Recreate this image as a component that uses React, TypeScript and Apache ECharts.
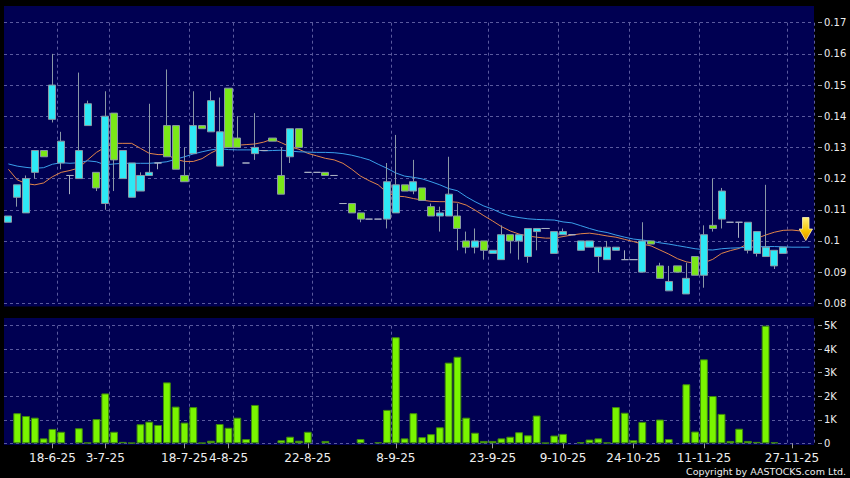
import React, { useEffect, useRef } from 'react';
import * as echarts from 'echarts';

// ---- data ----
const slotCount = 92;
const tickDates = ['18-6-25', '3-7-25', '18-7-25', '4-8-25', '22-8-25', '8-9-25', '23-9-25', '9-10-25', '24-10-25', '11-11-25', '27-11-25'];
const tickSlots = [5, 11, 20, 25, 34, 44, 55, 63, 71, 79, 89];
const gridSlots = [6, 12, 21, 26, 35, 44, 55, 63, 71, 79, 89];

// [open, close, low, high]
const candles: number[][] = [
  [0.106, 0.108, 0.106, 0.108], [0.114, 0.118, 0.111, 0.118], [0.109, 0.120, 0.109, 0.121], [0.122, 0.129, 0.120, 0.129],
  [0.129, 0.127, 0.127, 0.129], [0.139, 0.150, 0.138, 0.160], [0.125, 0.132, 0.123, 0.135], [0.121, 0.121, 0.115, 0.121],
  [0.120, 0.129, 0.120, 0.154], [0.137, 0.144, 0.137, 0.145], [0.122, 0.117, 0.116, 0.122], [0.112, 0.140, 0.110, 0.148],
  [0.141, 0.126, 0.116, 0.141], [0.120, 0.129, 0.120, 0.129], [0.114, 0.125, 0.114, 0.125], [0.116, 0.121, 0.116, 0.122],
  [0.121, 0.122, 0.121, 0.144], [0.125, 0.125, 0.123, 0.125], [0.137, 0.127, 0.127, 0.155], [0.137, 0.123, 0.123, 0.137],
  [0.121, 0.119, 0.119, 0.130], [0.128, 0.137, 0.128, 0.148], [0.137, 0.136, 0.136, 0.137], [0.135, 0.145, 0.135, 0.148],
  [0.124, 0.135, 0.124, 0.146], [0.149, 0.130, 0.130, 0.149], [0.133, 0.130, 0.130, 0.140], [0.125, 0.125, 0.125, 0.125],
  [0.128, 0.130, 0.126, 0.141], [0.129, 0.129, 0.129, 0.129], [0.133, 0.132, 0.132, 0.133], [0.121, 0.115, 0.115, 0.130],
  [0.127, 0.136, 0.125, 0.136], [0.136, 0.130, 0.130, 0.136], [0.122, 0.122, 0.122, 0.122], [0.122, 0.122, 0.122, 0.122],
  [0.122, 0.121, 0.121, 0.122], [0.121, 0.121, 0.121, 0.121], [0.112, 0.112, 0.112, 0.112], [0.112, 0.109, 0.109, 0.112],
  [0.109, 0.107, 0.106, 0.109], [0.107, 0.107, 0.107, 0.107], [0.107, 0.107, 0.107, 0.107], [0.107, 0.119, 0.104, 0.125],
  [0.109, 0.118, 0.109, 0.134], [0.118, 0.116, 0.116, 0.118], [0.116, 0.119, 0.115, 0.126], [0.117, 0.113, 0.113, 0.117],
  [0.111, 0.108, 0.108, 0.112], [0.108, 0.109, 0.103, 0.111], [0.108, 0.115, 0.108, 0.127], [0.108, 0.104, 0.097, 0.112],
  [0.100, 0.098, 0.096, 0.103], [0.098, 0.100, 0.096, 0.104], [0.100, 0.097, 0.094, 0.100], [0.096, 0.097, 0.096, 0.097],
  [0.094, 0.102, 0.094, 0.105], [0.102, 0.100, 0.096, 0.102], [0.100, 0.102, 0.094, 0.102], [0.095, 0.104, 0.093, 0.104],
  [0.103, 0.104, 0.097, 0.104], [0.104, 0.104, 0.104, 0.104], [0.096, 0.103, 0.096, 0.103], [0.102, 0.103, 0.102, 0.104],
  [0.102, 0.102, 0.102, 0.102], [0.097, 0.100, 0.097, 0.100], [0.098, 0.100, 0.098, 0.100], [0.095, 0.098, 0.090, 0.098],
  [0.094, 0.098, 0.094, 0.100], [0.097, 0.098, 0.097, 0.098], [0.094, 0.094, 0.094, 0.097], [0.094, 0.094, 0.094, 0.094],
  [0.090, 0.100, 0.090, 0.106], [0.100, 0.099, 0.099, 0.100], [0.092, 0.088, 0.088, 0.093], [0.084, 0.087, 0.084, 0.092],
  [0.092, 0.090, 0.090, 0.092], [0.083, 0.088, 0.083, 0.093], [0.095, 0.089, 0.089, 0.095], [0.089, 0.102, 0.085, 0.105],
  [0.105, 0.104, 0.103, 0.120], [0.107, 0.116, 0.104, 0.117], [0.106, 0.106, 0.106, 0.106], [0.106, 0.106, 0.101, 0.106],
  [0.097, 0.106, 0.096, 0.106], [0.096, 0.103, 0.095, 0.103], [0.095, 0.098, 0.095, 0.118], [0.092, 0.097, 0.091, 0.097],
  [0.096, 0.098, 0.096, 0.098],
];

// volume in thousands
const volumesK: number[] = [
  0, 1.28, 1.16, 1.09, 0.21, 0.61, 0.49, 0, 0.64, 0.03,
  1.03, 2.12, 0.49, 0.06, 0.02, 0.81, 0.92, 0.78, 2.59, 1.56,
  0.88, 1.54, 0.02, 0.11, 0.82, 0.66, 1.09, 0.18, 1.63, 0,
  0, 0.13, 0.28, 0.11, 0.49, 0, 0.1, 0, 0, 0,
  0.18, 0, 0.04, 1.42, 4.51, 0.21, 1.28, 0.26, 0.39, 0.68,
  3.43, 3.68, 1.09, 0.45, 0.1, 0.1, 0.21, 0.28, 0.47, 0.34,
  1.18, 0.02, 0.33, 0.4, 0, 0.04, 0.16, 0.21, 0.03, 1.54,
  1.3, 0.13, 0.91, 0, 1.01, 0.18, 0, 2.51, 0.5, 3.57,
  2.01, 1.25, 0.1, 0.62, 0.1, 0.06, 5.0, 0.04, 0,
];

const ma10: number[] = [
  0.1230, 0.1196, 0.1184, 0.1180, 0.1186, 0.1206, 0.1220, 0.1226, 0.1234, 0.1260,
  0.1284, 0.1301, 0.1313, 0.1313, 0.1313, 0.1297, 0.1281, 0.1277, 0.1277, 0.1262,
  0.1255, 0.1255, 0.1264, 0.1282, 0.1296, 0.1303, 0.1307, 0.1309, 0.1311, 0.1317,
  0.1327, 0.1315, 0.1302, 0.1294, 0.1281, 0.1273, 0.1265, 0.1260, 0.1249, 0.1230,
  0.1208, 0.1193, 0.1180, 0.1155, 0.1144, 0.1142, 0.1136, 0.1131, 0.1127, 0.1126,
  0.1126, 0.1124, 0.1115, 0.1099, 0.1081, 0.1064, 0.1046, 0.1032, 0.1022, 0.1016,
  0.1012, 0.1009, 0.1009, 0.1014, 0.1019, 0.1023, 0.1025, 0.1021, 0.1016, 0.1012,
  0.1005, 0.0998, 0.0990, 0.0984, 0.0971, 0.0958, 0.0943, 0.0933, 0.0928, 0.0930,
  0.0941, 0.0960, 0.0969, 0.0976, 0.0992, 0.1008, 0.1019, 0.1028, 0.1034, 0.1035,
  0.1032,
];

const ma20: number[] = [
  0.1247, 0.1240, 0.1236, 0.1233, 0.1235, 0.1246, 0.1251, 0.1249, 0.1251, 0.1257,
  0.1254, 0.1244, 0.1247, 0.1249, 0.1249, 0.1249, 0.1249, 0.1251, 0.1254, 0.1262,
  0.1270, 0.1279, 0.1286, 0.1292, 0.1296, 0.1293, 0.1292, 0.1292, 0.1292, 0.1289,
  0.1290, 0.1291, 0.1288, 0.1286, 0.1285, 0.1284, 0.1284, 0.1283, 0.1280, 0.1275,
  0.1268, 0.1260, 0.1246, 0.1233, 0.1218, 0.1208, 0.1204, 0.1199, 0.1190, 0.1180,
  0.1168, 0.1161, 0.1142, 0.1126, 0.1112, 0.1102, 0.1089, 0.1080, 0.1075, 0.1071,
  0.1069, 0.1068, 0.1067, 0.1061, 0.1058, 0.1049, 0.1040, 0.1032, 0.1027, 0.1019,
  0.1012, 0.1006, 0.1003, 0.0999, 0.0994, 0.0990, 0.0985, 0.0980, 0.0975, 0.0972,
  0.0971, 0.0975, 0.0977, 0.0978, 0.0980, 0.0981, 0.0982, 0.0982, 0.0981, 0.0980,
  0.0980, 0.0980,
];

const priceMin = 0.08;
const priceMax = 0.17;
const priceStep = 0.01;
const volMin = 0;
const volMax = 5;
const volStep = 1;
const copyright = 'Copyright by AASTOCKS.com Ltd.';

// ---- styles ----
const NAVY = '#000052';
const GRID_LINE = '#5a5a9e';
const CYAN = '#2ee9f5';
const GREEN = '#7ae818';
const BORDER = '#8a98a6';
const LABEL = '#eeeeee';
const FONT = 'DejaVu Sans';

export default function App() {
  const ref = useRef<HTMLDivElement>(null);

  useEffect(() => {
    if (!ref.current) return;
    const chart = echarts.init(ref.current, undefined, { renderer: 'svg' });

    const categories = Array.from({ length: slotCount }, (_, i) => {
      const k = tickSlots.indexOf(i);
      return k >= 0 ? tickDates[k] : '#' + i;
    });
    const isTick = (i: number) => tickSlots.indexOf(i) >= 0;
    const isGrid = (i: number) => gridSlots.indexOf(i) >= 0;
    const splitLine = {
      show: true,
      interval: (i: number) => isGrid(i),
      lineStyle: { color: GRID_LINE, type: [3, 3], width: 1 },
    };

    const option: any = {
      animation: false,
      backgroundColor: '#000000',
      graphic: [
        { type: 'rect', z: -10, shape: { x: 4, y: 6, width: 810, height: 300.5 }, style: { fill: NAVY }, silent: true },
        { type: 'rect', z: -10, shape: { x: 4, y: 318, width: 810, height: 127 }, style: { fill: NAVY }, silent: true },
        {
          type: 'text', x: 846, y: 471, z: 10,
          style: { text: copyright, fill: LABEL, fontSize: 9.5, fontFamily: FONT, align: 'right', verticalAlign: 'middle' },
        },
        {
          type: 'polygon', z: 10,
          shape: { points: [[802.5, 217.5], [809, 217.5], [809, 229], [812.5, 229], [805.8, 240.5], [799.2, 229], [802.5, 229]] },
          style: {
            fill: new echarts.graphic.LinearGradient(0, 0, 0, 1, [
              { offset: 0, color: '#fff07a' },
              { offset: 0.6, color: '#f5c400' },
              { offset: 1, color: '#e09000' },
            ]),
            stroke: '#fff5b0',
            lineWidth: 0.8,
          },
        },
      ],
      grid: [
        { left: 4, right: 36, top: 22.7, bottom: 478 - 303.3 },
        { left: 4, right: 36, top: 325.7, bottom: 478 - 443.3 },
      ],
      xAxis: [
        {
          type: 'category', gridIndex: 0, data: categories, boundaryGap: true,
          axisLine: { show: false }, axisTick: { show: false }, axisLabel: { show: false },
          splitLine,
        },
        {
          type: 'category', gridIndex: 1, data: categories, boundaryGap: true,
          axisLine: { show: false },
          axisTick: { show: true, alignWithLabel: true, interval: (i: number) => isTick(i), length: 5, lineStyle: { color: '#9a9a9a' } },
          axisLabel: {
            show: true, interval: (i: number) => isTick(i), color: LABEL, fontFamily: FONT, fontSize: 12, margin: 9,
          },
          splitLine,
        },
      ],
      yAxis: [
        {
          type: 'value', gridIndex: 0, position: 'right', offset: 4,
          min: priceMin, max: priceMax, interval: priceStep,
          axisLine: { show: false },
          axisTick: { show: true, length: 4, lineStyle: { color: '#9a9a9a' } },
          axisLabel: {
            color: LABEL, fontFamily: FONT, fontSize: 10, margin: 6, showMinLabel: true, showMaxLabel: true,
            formatter: (v: number) => String(parseFloat(v.toFixed(2))),
          },
          splitLine: { show: true, lineStyle: { color: GRID_LINE, type: [3, 3], width: 1 } },
        },
        {
          type: 'value', gridIndex: 1, position: 'right', offset: 4,
          min: volMin, max: volMax, interval: volStep,
          axisLine: { show: false },
          axisTick: { show: true, length: 4, lineStyle: { color: '#9a9a9a' } },
          axisLabel: {
            color: LABEL, fontFamily: FONT, fontSize: 10, margin: 6, showMinLabel: true, showMaxLabel: true,
            formatter: (v: number) => (Math.round(v) === 0 ? '0' : Math.round(v) + 'K'),
          },
          splitLine: { show: true, lineStyle: { color: GRID_LINE, type: [3, 3], width: 1 } },
        },
      ],
      series: [
        {
          type: 'line', xAxisIndex: 0, yAxisIndex: 0, data: ma10, symbol: 'none', z: 2,
          lineStyle: { color: '#e0844a', width: 1 },
        },
        {
          type: 'line', xAxisIndex: 0, yAxisIndex: 0, data: ma20, symbol: 'none', z: 2,
          lineStyle: { color: '#3a9fea', width: 1 },
        },
        {
          type: 'candlestick', xAxisIndex: 0, yAxisIndex: 0, barWidth: 7.6, barMaxWidth: 9, z: 3,
          data: candles,
          itemStyle: {
            color: CYAN, color0: GREEN, borderColor: BORDER, borderColor0: BORDER,
            borderColorDoji: '#a9b0c2', borderWidth: 1,
          },
        },
        {
          type: 'bar', xAxisIndex: 1, yAxisIndex: 1, barWidth: 7.8,
          data: volumesK.map((v) => (v > 0 ? v : '-')),
          itemStyle: { color: '#7af500', borderColor: '#3f8a0c', borderWidth: 1 },
        },
      ],
    };

    chart.setOption(option);
    return () => chart.dispose();
  }, []);

  return <div ref={ref} style={{ position: 'fixed', left: 0, top: 0, width: 850, height: 478 }} />;
}
